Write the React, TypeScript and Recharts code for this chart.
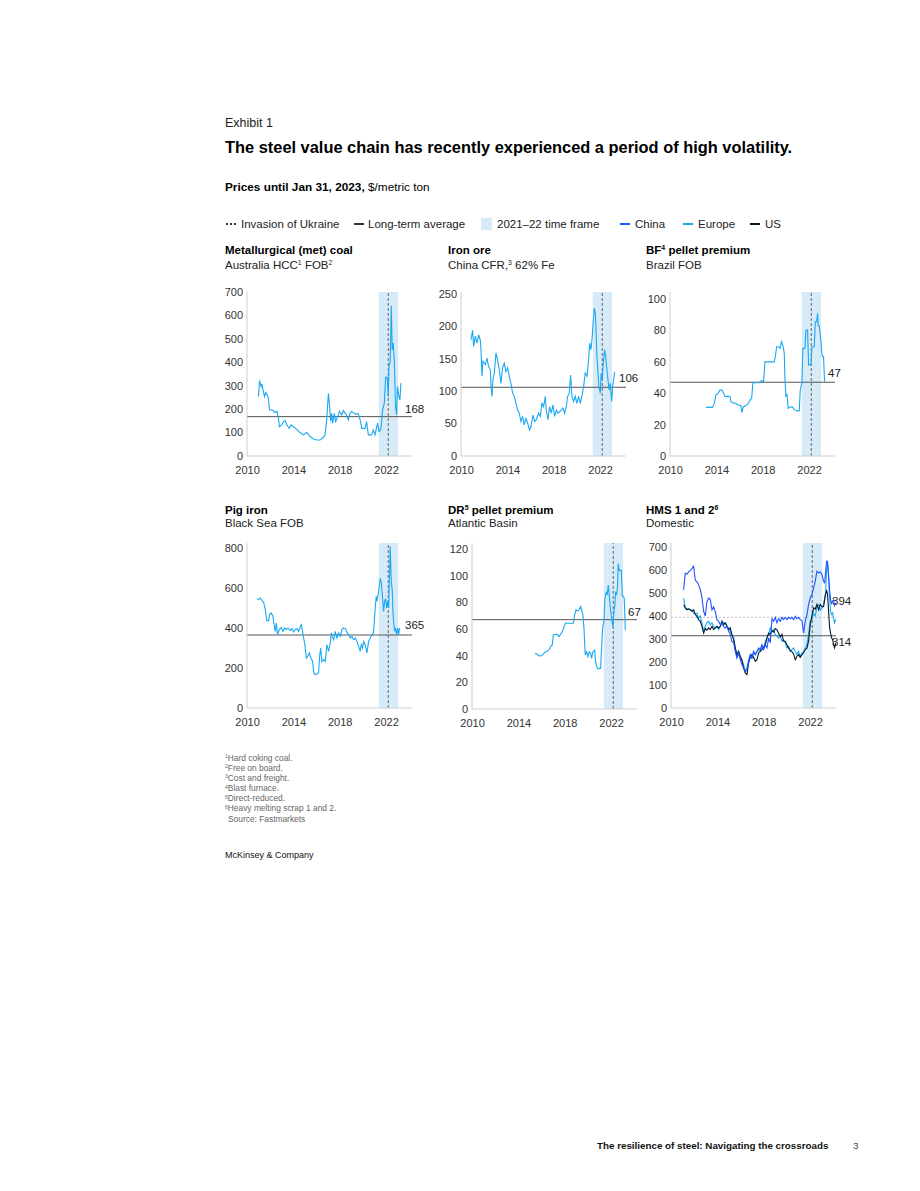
import React from 'react';
import { LineChart, Line, XAxis, YAxis, ReferenceLine, ReferenceArea } from 'recharts';

const FONT = '"Liberation Sans", Arial, Helvetica, sans-serif';

const xTicks = [2010, 2014, 2018, 2022];
const xDomain: [number, number] = [2009.95, 2024.2];
const bandStart = 2021.33;
const bandEnd = 2023.0;
const invasionDate = 2022.15;

const CYAN = '#1AA8F2';
const CHINA = '#2251FF';
const EUROPE = '#1AA8F2';
const US = '#051C2C';
const BAND = '#D6EAF8';

const metCoal: [number, number][] = [
  [2010.94, 254], [2011.03, 322], [2011.17, 297], [2011.23, 308], [2011.46, 254], [2011.57, 271], [2011.75, 254],
  [2011.81, 240], [2011.89, 197], [2012.24, 194], [2012.38, 185], [2012.53, 191], [2012.67, 161], [2012.75, 125],
  [2012.95, 133], [2013.1, 147], [2013.24, 151], [2013.39, 133], [2013.59, 118], [2013.76, 133], [2013.96, 125],
  [2014.25, 114], [2014.53, 100], [2014.82, 90], [2015.11, 100], [2015.4, 83], [2015.68, 73], [2015.97, 68],
  [2016.26, 68], [2016.55, 80], [2016.69, 90], [2016.83, 154], [2016.98, 268], [2017.06, 225], [2017.18, 147],
  [2017.26, 182], [2017.35, 140], [2017.49, 182], [2017.61, 147], [2017.78, 168], [2017.93, 190], [2018.13, 175],
  [2018.27, 194], [2018.41, 182], [2018.56, 175], [2018.7, 154], [2018.85, 182], [2018.99, 190], [2019.28, 180],
  [2019.56, 180], [2019.76, 147], [2019.85, 118], [2020.14, 118], [2020.28, 147], [2020.43, 90], [2020.71, 90],
  [2020.86, 111], [2021.0, 90], [2021.23, 140], [2021.35, 104], [2021.49, 111], [2021.58, 147], [2021.66, 197],
  [2021.81, 225], [2021.92, 336], [2022.06, 336], [2022.15, 254], [2022.21, 382], [2022.32, 403], [2022.41, 641],
  [2022.49, 453], [2022.58, 482], [2022.67, 410], [2022.78, 211], [2022.87, 175], [2022.95, 297], [2023.07, 254],
  [2023.16, 240], [2023.24, 311],
];

const ironOre: [number, number][] = [
  [2010.81, 179], [2010.95, 194], [2011.04, 169], [2011.18, 185], [2011.33, 174], [2011.47, 187], [2011.61, 179],
  [2011.67, 167], [2011.76, 123], [2011.84, 146], [2012.05, 141], [2012.19, 151], [2012.33, 138], [2012.48, 133],
  [2012.56, 105], [2012.62, 92], [2012.71, 118], [2012.83, 128], [2012.97, 159], [2013.11, 148], [2013.26, 133],
  [2013.4, 112], [2013.54, 136], [2013.69, 143], [2013.83, 130], [2013.98, 136], [2014.12, 123], [2014.26, 112],
  [2014.41, 97], [2014.55, 92], [2014.7, 81], [2014.84, 71], [2014.98, 66], [2015.13, 53], [2015.27, 61],
  [2015.41, 48], [2015.56, 58], [2015.7, 51], [2015.87, 40], [2015.99, 45], [2016.16, 63], [2016.31, 53],
  [2016.45, 56], [2016.65, 66], [2016.8, 61], [2016.94, 81], [2017.08, 76], [2017.23, 92], [2017.31, 71],
  [2017.46, 56], [2017.6, 76], [2017.75, 66], [2017.89, 79], [2018.03, 61], [2018.18, 71], [2018.32, 66],
  [2018.52, 69], [2018.75, 74], [2018.9, 66], [2019.04, 76], [2019.16, 92], [2019.3, 97], [2019.42, 125],
  [2019.53, 92], [2019.67, 84], [2019.82, 92], [2019.96, 81], [2020.11, 92], [2020.25, 81], [2020.39, 92],
  [2020.54, 107], [2020.68, 128], [2020.83, 123], [2020.97, 148], [2021.06, 174], [2021.17, 164], [2021.26, 179],
  [2021.34, 200], [2021.46, 228], [2021.55, 221], [2021.63, 185], [2021.69, 154], [2021.78, 128], [2021.86, 107],
  [2021.98, 97], [2022.06, 128], [2022.15, 118], [2022.24, 143], [2022.35, 164], [2022.44, 154], [2022.52, 138],
  [2022.64, 118], [2022.75, 102], [2022.84, 112], [2022.96, 84], [2023.04, 107], [2023.13, 118], [2023.22, 130],
];

const bfPellet: [number, number][] = [
  [2013.05, 31], [2013.63, 31], [2013.77, 33.5], [2013.92, 38.9], [2014.12, 40], [2014.26, 42], [2014.44, 42],
  [2014.58, 40], [2014.69, 38], [2014.93, 38], [2015.13, 37.8], [2015.21, 34.6], [2015.36, 34], [2015.64, 33.5],
  [2015.85, 32.5], [2016.08, 32], [2016.16, 27.6], [2016.28, 31.4], [2016.51, 32], [2016.71, 33.5], [2016.88, 36],
  [2017.0, 36.7], [2017.11, 46.7], [2017.37, 46.7], [2017.66, 46.7], [2017.86, 48], [2018.03, 47.3], [2018.15, 60],
  [2018.38, 60], [2018.81, 60], [2018.95, 60], [2019.04, 63], [2019.16, 69.6], [2019.33, 69.6], [2019.44, 68.6],
  [2019.59, 72.8], [2019.73, 69.6], [2019.82, 65.4], [2019.88, 48.4], [2019.96, 37.8], [2020.05, 39.5], [2020.16, 30.4],
  [2020.31, 31], [2020.48, 31.4], [2020.68, 29.7], [2020.88, 28.9], [2021.11, 28.7], [2021.2, 42], [2021.26, 44],
  [2021.34, 46.7], [2021.43, 68.6], [2021.6, 68.6], [2021.69, 80.3], [2021.83, 80.3], [2021.92, 58], [2022.12, 58],
  [2022.21, 69.6], [2022.41, 69.6], [2022.5, 85.6], [2022.61, 85.6], [2022.7, 90.9], [2022.75, 82.8], [2022.84, 82.8],
  [2022.98, 73.9], [2023.07, 64.3], [2023.16, 63.3], [2023.21, 63.3], [2023.3, 47.3],
];

const pigIron: [number, number][] = [
  [2010.81, 547], [2010.95, 542], [2011.1, 550], [2011.24, 537], [2011.38, 530], [2011.53, 492], [2011.61, 458],
  [2011.67, 437], [2011.82, 437], [2011.9, 467], [2012.05, 475], [2012.19, 458], [2012.31, 408], [2012.39, 383],
  [2012.48, 425], [2012.59, 367], [2012.74, 392], [2012.91, 403], [2013.05, 383], [2013.2, 400], [2013.34, 392],
  [2013.49, 400], [2013.69, 387], [2013.83, 397], [2013.97, 380], [2014.12, 392], [2014.26, 397], [2014.41, 383],
  [2014.55, 408], [2014.64, 417], [2014.72, 392], [2014.84, 350], [2014.95, 317], [2015.07, 250], [2015.18, 258],
  [2015.33, 275], [2015.47, 250], [2015.62, 233], [2015.7, 183], [2015.79, 167], [2015.99, 170], [2016.13, 175],
  [2016.22, 258], [2016.31, 300], [2016.42, 233], [2016.57, 242], [2016.71, 233], [2016.85, 317], [2017.0, 283],
  [2017.14, 325], [2017.23, 375], [2017.31, 358], [2017.43, 342], [2017.57, 383], [2017.72, 350], [2017.86, 375],
  [2018.01, 358], [2018.15, 392], [2018.29, 400], [2018.44, 397], [2018.58, 380], [2018.72, 367], [2018.87, 350],
  [2019.01, 358], [2019.16, 342], [2019.3, 350], [2019.44, 333], [2019.59, 308], [2019.73, 283], [2019.82, 317],
  [2019.93, 300], [2020.02, 333], [2020.16, 317], [2020.31, 275], [2020.45, 333], [2020.6, 350], [2020.74, 367],
  [2020.88, 375], [2021.03, 508], [2021.11, 558], [2021.17, 533], [2021.32, 583], [2021.46, 650], [2021.55, 625],
  [2021.66, 550], [2021.75, 483], [2021.83, 533], [2021.92, 547], [2022.01, 500], [2022.09, 533], [2022.18, 500],
  [2022.24, 617], [2022.32, 808], [2022.41, 633], [2022.5, 583], [2022.55, 483], [2022.61, 433], [2022.7, 383],
  [2022.78, 400], [2022.87, 367], [2022.96, 400], [2023.04, 367], [2023.13, 400],
];

const drPellet: [number, number][] = [
  [2015.39, 41.8], [2015.59, 41], [2015.73, 40], [2015.93, 39.8], [2016.1, 41], [2016.22, 42.5], [2016.39, 43],
  [2016.59, 44.3], [2016.74, 46.8], [2016.88, 48], [2016.97, 55.5], [2017.17, 56], [2017.31, 56], [2017.46, 54.3],
  [2017.6, 56], [2017.75, 58], [2017.89, 61.8], [2018.03, 64.3], [2018.18, 64.3], [2018.47, 64.3], [2018.7, 64.3],
  [2018.81, 70.5], [2018.93, 74.3], [2019.04, 73.5], [2019.19, 74.3], [2019.33, 76.8], [2019.42, 74.3], [2019.53, 70.5],
  [2019.62, 60.5], [2019.73, 40.5], [2019.85, 43], [2019.96, 39.3], [2020.08, 43], [2020.19, 41.8], [2020.28, 38],
  [2020.39, 43], [2020.54, 44.3], [2020.62, 35.5], [2020.71, 31.8], [2020.83, 30], [2020.97, 30.5], [2021.06, 30.5],
  [2021.14, 45.5], [2021.23, 60.5], [2021.34, 65.5], [2021.43, 83], [2021.55, 88], [2021.63, 85.5], [2021.72, 93],
  [2021.8, 85.5], [2021.92, 74.3], [2022.03, 66.8], [2022.12, 61.8], [2022.21, 73], [2022.29, 78], [2022.35, 88],
  [2022.44, 85.5], [2022.52, 91.8], [2022.58, 109], [2022.67, 104], [2022.75, 104], [2022.84, 104], [2022.93, 85.5],
  [2023.01, 84.3], [2023.1, 83], [2023.19, 59.3],
];

const hmsYears = [
  2011.04, 2011.18, 2011.33, 2011.47, 2011.61, 2011.76, 2011.9, 2012.05, 2012.19, 2012.33,
  2012.48, 2012.62, 2012.77, 2012.91, 2013.05, 2013.2, 2013.34, 2013.49, 2013.63, 2013.77,
  2013.92, 2014.06, 2014.21, 2014.35, 2014.49, 2014.64, 2014.78, 2014.93, 2015.07, 2015.21,
  2015.36, 2015.5, 2015.64, 2015.79, 2015.93, 2016.08, 2016.22, 2016.36, 2016.51, 2016.65,
  2016.8, 2016.94, 2017.08, 2017.23, 2017.37, 2017.52, 2017.66, 2017.8, 2017.95, 2018.09,
  2018.24, 2018.38, 2018.52, 2018.67, 2018.81, 2018.95, 2019.1, 2019.24, 2019.39, 2019.53,
  2019.67, 2019.82, 2019.96, 2020.11, 2020.25, 2020.39, 2020.54, 2020.68, 2020.83, 2020.97,
  2021.11, 2021.26, 2021.4, 2021.55, 2021.69, 2021.83, 2021.98, 2022.12, 2022.27, 2022.41,
  2022.55, 2022.7, 2022.84, 2022.98, 2023.13,
  2023.22, 2023.3, 2023.39, 2023.47, 2023.56, 2023.65, 2023.73, 2023.82, 2023.91, 2023.99, 2024.08, 2024.17,
];

const hmsChina = [
  514, 585, 582, 591, 597, 606, 616, 555, 548, 536,
  514, 482, 420, 400, 460, 478, 471, 427, 440, 420,
  384, 377, 362, 370, 355, 348, 355, 333, 319, 290,
  283, 246, 217, 239, 210, 188, 174, 159, 167, 196,
  232, 217, 246, 232, 246, 261, 254, 275, 254, 275,
  261, 304, 283, 388, 377, 394, 370, 388, 377, 394,
  384, 394, 384, 394, 388, 394, 384, 398, 388, 394,
  384, 380, 326, 380, 405, 449, 478, 493, 522, 551,
  594, 587, 591, 582, 550,
  545, 590, 640, 630, 580, 510, 470, 455, 466, 470, 445, 456,
];

const hmsEurope = [
  478, 436, 430, 432, 427, 425, 412, 410, 412, 391,
  400, 370, 333, 355, 370, 377, 362, 370, 355, 348,
  355, 341, 355, 377, 370, 370, 355, 348, 333, 319,
  304, 261, 239, 246, 217, 203, 188, 159, 174, 210,
  232, 217, 239, 232, 246, 254, 246, 268, 261, 290,
  304, 319, 348, 333, 341, 319, 312, 304, 312, 290,
  297, 283, 261, 268, 246, 254, 261, 246, 232, 246,
  225, 239, 246, 258, 275, 319, 380, 385, 410, 400,
  440, 449, 425, 435, 450,
  480, 500, 600, 640, 560, 478, 420, 406, 413, 391, 370, 385,
];

const hmsUS = [
  449, 435, 427, 430, 427, 420, 427, 406, 398, 384,
  377, 355, 325, 345, 338, 348, 341, 355, 341, 348,
  355, 348, 355, 377, 362, 370, 355, 341, 348, 319,
  297, 261, 225, 246, 225, 210, 174, 152, 145, 195,
  220, 232, 220, 203, 210, 240, 246, 255, 262, 275,
  305, 325, 320, 335, 330, 345, 340, 325, 310, 320,
  290, 290, 275, 260, 250, 245, 235, 210, 225, 232,
  220, 232, 240, 255, 260, 290, 362, 400, 435, 430,
  450, 427, 450, 440, 440,
  470, 495, 510, 495, 420, 350, 325, 305, 297, 275, 261, 283,
];

const pairs = (p: [number, number][]) => p.map(([x, y]) => ({ x, y }));
const zipYears = (vals: number[]) => vals.map((y, i) => ({ x: hmsYears[i], y }));

const EndLabel = (props: any) => {
  const { viewBox, text, dx = -7, dy = -5 } = props;
  if (!viewBox) return null;
  return (
    <text x={viewBox.x + viewBox.width + dx} y={viewBox.y + dy} fontSize={11.5} fill="#222" fontFamily={FONT}>
      {text}
    </text>
  );
};

type RefDef = { value: number; label: string; dx?: number; dy?: number; color?: string; dash?: string };
type SeriesDef = { data: { x: number; y: number }[]; color: string };

function Panel(props: {
  axisX: number; plotTop: number; plotH: number; yMax: number; yTicks: number[];
  series: SeriesDef[]; refs: RefDef[];
}) {
  const { axisX, plotTop, plotH, yMax, yTicks, series, refs } = props;
  const yAxisW = 40, mTop = 8, mRight = 40, xAxisH = 30, plotW = 165;
  const W = yAxisW + plotW + mRight;
  const H = mTop + plotH + xAxisH;
  const tickStyle = { fontSize: 11, fill: '#333', fontFamily: FONT };
  return (
    <div style={{ position: 'absolute', left: axisX - yAxisW, top: plotTop - mTop }}>
      <LineChart width={W} height={H} margin={{ top: mTop, right: mRight, bottom: 0, left: 0 }}>
        <XAxis type="number" dataKey="x" domain={xDomain} ticks={xTicks} allowDataOverflow height={xAxisH}
          tickLine={false} tickSize={0} tickMargin={10} axisLine={{ stroke: '#cfcfcf' }} tick={tickStyle} />
        <YAxis type="number" domain={[0, yMax]} ticks={yTicks} allowDataOverflow width={yAxisW}
          tickLine={false} tickSize={0} tickMargin={4} axisLine={{ stroke: '#cfcfcf' }} tick={tickStyle} />
        <ReferenceArea x1={bandStart} x2={bandEnd} fill={BAND} fillOpacity={1} stroke="none" />
        <ReferenceLine x={invasionDate} stroke="#666" strokeDasharray="3 2" strokeWidth={1} />
        {refs.map((r, i) => (
          <ReferenceLine key={i} y={r.value} stroke={r.color || '#555'} strokeWidth={1} strokeDasharray={r.dash}
            label={<EndLabel text={r.label} dx={r.dx} dy={r.dy} />} />
        ))}
        {series.map((s, i) => (
          <Line key={i} data={s.data} dataKey="y" type="linear" stroke={s.color} strokeWidth={1.1}
            dot={false} activeDot={false} isAnimationActive={false} />
        ))}
      </LineChart>
    </div>
  );
}

const Sup = ({ children }: { children: React.ReactNode }) => (
  <span style={{ fontSize: '0.6em', position: 'relative', top: '-0.55em', lineHeight: 0 }}>{children}</span>
);

const Txt = (p: { x: number; y: number; size: number; bold?: boolean; color?: string; children: React.ReactNode; lh?: number }) => (
  <div style={{
    position: 'absolute', left: p.x, top: p.y, fontSize: p.size, lineHeight: p.lh ? p.lh + 'px' : 1,
    fontWeight: p.bold ? 700 : 400, color: p.color || '#000', whiteSpace: 'nowrap', fontFamily: FONT,
  }}>{p.children}</div>
);

const LegendLine = ({ x, y, color }: { x: number; y: number; color: string }) => (
  <div style={{ position: 'absolute', left: x, top: y, width: 10, height: 2, background: color }} />
);

const footnotes = [
  ['1', 'Hard coking coal.'],
  ['2', 'Free on board.'],
  ['3', 'Cost and freight.'],
  ['4', 'Blast furnace.'],
  ['5', 'Direct-reduced.'],
  ['6', 'Heavy melting scrap 1 and 2.'],
];

export default function App() {
  return (
    <div style={{ position: 'absolute', left: 0, top: 0, width: 920, height: 1191, background: '#fff', fontFamily: FONT }}>
      <Txt x={225} y={117} size={12.5} color="#222">Exhibit 1</Txt>
      <Txt x={225} y={139} size={16.4} bold>The steel value chain has recently experienced a period of high volatility.</Txt>
      <Txt x={225} y={181.5} size={11.8}><b>Prices until Jan 31, 2023,</b> $/metric ton</Txt>

      {/* legend */}
      <div style={{ position: 'absolute', left: 226, top: 223, width: 11, height: 2,
        backgroundImage: 'linear-gradient(to right, #333 50%, transparent 50%)', backgroundSize: '4px 2px' }} />
      <Txt x={241} y={218.5} size={11.5} color="#222">Invasion of Ukraine</Txt>
      <LegendLine x={354} y={223} color="#333" />
      <Txt x={368} y={218.5} size={11.5} color="#222">Long-term average</Txt>
      <div style={{ position: 'absolute', left: 481, top: 218, width: 11, height: 12, background: BAND }} />
      <Txt x={497} y={218.5} size={11.5} color="#222">2021–22 time frame</Txt>
      <LegendLine x={620} y={223} color={CHINA} />
      <Txt x={635} y={218.5} size={11.5} color="#222">China</Txt>
      <LegendLine x={683} y={223} color={EUROPE} />
      <Txt x={698} y={218.5} size={11.5} color="#222">Europe</Txt>
      <LegendLine x={750} y={223} color={US} />
      <Txt x={765} y={218.5} size={11.5} color="#222">US</Txt>

      {/* panel titles row 1 */}
      <Txt x={225} y={245} size={11.5} bold>Metallurgical (met) coal</Txt>
      <Txt x={225} y={260} size={11.5} color="#222">Australia HCC<Sup>1</Sup> FOB<Sup>2</Sup></Txt>
      <Txt x={448} y={245} size={11.5} bold>Iron ore</Txt>
      <Txt x={448} y={260} size={11.5} color="#222">China CFR,<Sup>3</Sup> 62% Fe</Txt>
      <Txt x={646} y={245} size={11.5} bold>BF<Sup>4</Sup> pellet premium</Txt>
      <Txt x={646} y={260} size={11.5} color="#222">Brazil FOB</Txt>

      {/* panel titles row 2 */}
      <Txt x={225} y={504.5} size={11.5} bold>Pig iron</Txt>
      <Txt x={225} y={518} size={11.5} color="#222">Black Sea FOB</Txt>
      <Txt x={448} y={504.5} size={11.5} bold>DR<Sup>5</Sup> pellet premium</Txt>
      <Txt x={448} y={518} size={11.5} color="#222">Atlantic Basin</Txt>
      <Txt x={646} y={504.5} size={11.5} bold>HMS 1 and 2<Sup>6</Sup></Txt>
      <Txt x={646} y={518} size={11.5} color="#222">Domestic</Txt>

      <Panel axisX={247} plotTop={292} plotH={164} yMax={700} yTicks={[0, 100, 200, 300, 400, 500, 600, 700]}
        series={[{ data: pairs(metCoal), color: CYAN }]} refs={[{ value: 168, label: '168', dx: -7, dy: -4 }]} />
      <Panel axisX={461} plotTop={292} plotH={164} yMax={253} yTicks={[0, 50, 100, 150, 200, 250]}
        series={[{ data: pairs(ironOre), color: CYAN }]} refs={[{ value: 106, label: '106', dx: -7, dy: -5 }]} />
      <Panel axisX={670} plotTop={292} plotH={164} yMax={104.5} yTicks={[0, 20, 40, 60, 80, 100]}
        series={[{ data: pairs(bfPellet), color: CYAN }]} refs={[{ value: 47, label: '47', dx: -7, dy: -5 }]} />
      <Panel axisX={247} plotTop={543} plotH={165} yMax={825} yTicks={[0, 200, 400, 600, 800]}
        series={[{ data: pairs(pigIron), color: CYAN }]} refs={[{ value: 365, label: '365', dx: -7, dy: -6 }]} />
      <Panel axisX={472} plotTop={543} plotH={166} yMax={124.5} yTicks={[0, 20, 40, 60, 80, 100, 120]}
        series={[{ data: pairs(drPellet), color: CYAN }]} refs={[{ value: 67, label: '67', dx: -9, dy: -4 }]} />
      <Panel axisX={671} plotTop={543} plotH={165} yMax={717} yTicks={[0, 100, 200, 300, 400, 500, 600, 700]}
        series={[
          { data: zipYears(hmsEurope), color: EUROPE },
          { data: zipYears(hmsUS), color: US },
          { data: zipYears(hmsChina), color: CHINA },
        ]}
        refs={[
          { value: 394, label: '394', dx: -4, dy: -12, color: '#bbb', dash: '2 2' },
          { value: 314, label: '314', dx: -4, dy: 10 },
        ]} />

      {/* footnotes */}
      <div style={{ position: 'absolute', left: 225, top: 753, fontSize: 8.4, lineHeight: '10.1px', color: '#666', fontFamily: FONT }}>
        {footnotes.map(([n, t]) => (
          <div key={n} style={{ height: 10.1, whiteSpace: 'nowrap' }}><Sup>{n}</Sup>{t}</div>
        ))}
        <div style={{ height: 10.1, paddingLeft: 3 }}>Source: Fastmarkets</div>
      </div>
      <Txt x={225} y={850.5} size={9} color="#111">McKinsey &amp; Company</Txt>

      <Txt x={597} y={1141} size={9.8} bold color="#111">The resilience of steel: Navigating the crossroads</Txt>
      <Txt x={853} y={1141} size={9.8} color="#444">3</Txt>
    </div>
  );
}
